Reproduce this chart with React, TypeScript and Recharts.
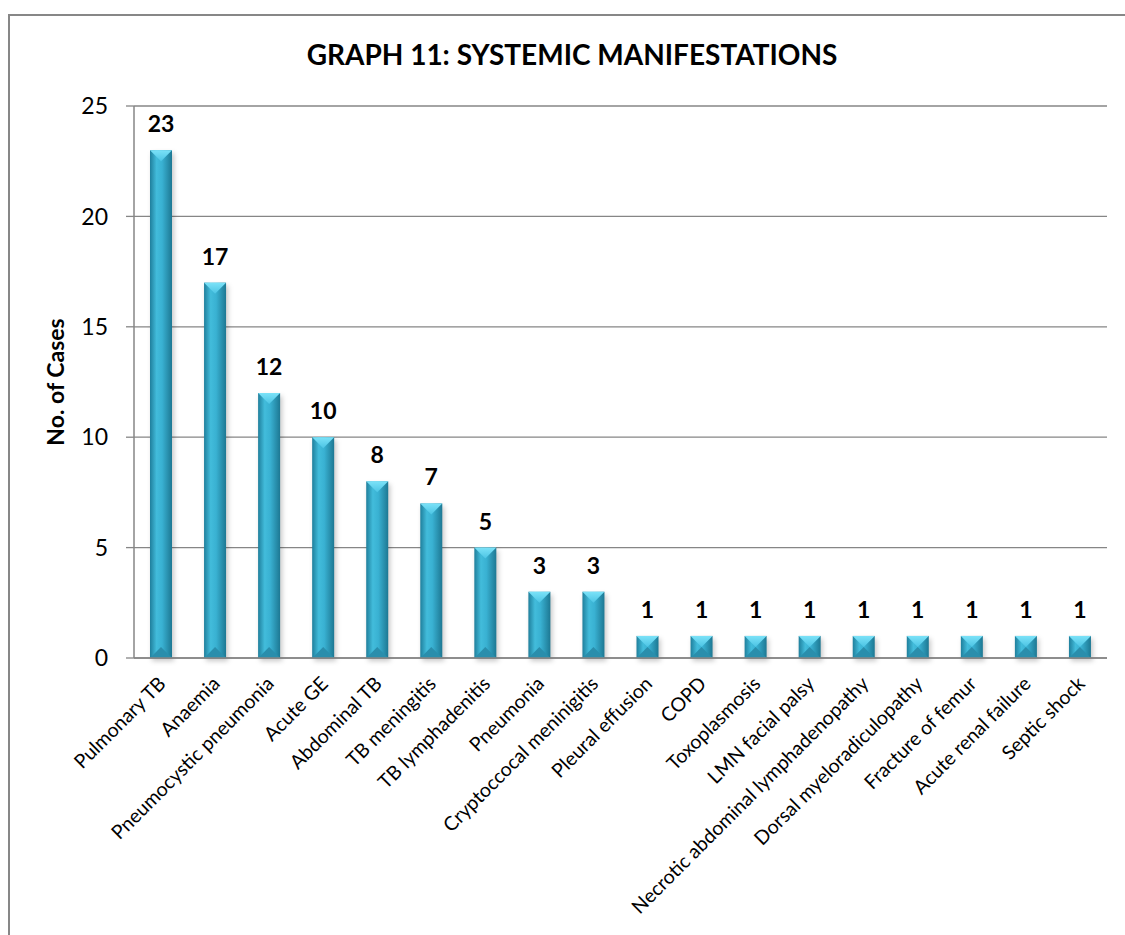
import { BarChart, Bar, XAxis, YAxis, CartesianGrid, LabelList } from "recharts";

const categories = [
  "Pulmonary TB",
  "Anaemia",
  "Pneumocystic pneumonia",
  "Acute GE",
  "Abdominal TB",
  "TB meningitis",
  "TB lymphadenitis",
  "Pneumonia",
  "Cryptoccocal meninigitis",
  "Pleural effusion",
  "COPD",
  "Toxoplasmosis",
  "LMN facial palsy",
  "Necrotic abdominal lymphadenopathy",
  "Dorsal myeloradiculopathy",
  "Fracture of femur",
  "Acute renal failure",
  "Septic shock",
];
const cases = [23, 17, 12, 10, 8, 7, 5, 3, 3, 1, 1, 1, 1, 1, 1, 1, 1, 1];
const yTicks = [0, 5, 10, 15, 20, 25];

const data = categories.map((name, i) => ({ name, value: cases[i] }));

const FONT = "Lato, 'Open Sans', sans-serif";
const GRID = "#868686";

const BevelBar = (props: any) => {
  const { x, y, width, height } = props;
  if (!height || height <= 0) return null;
  const b = Math.min(width / 2, height / 2);
  const cx = x + width / 2;
  return (
    <g>
      <rect x={x + 2} y={y + 3} width={width} height={height} fill="rgba(0,0,0,0.22)" filter="url(#barShadow)" />
      <rect x={x} y={y} width={width} height={height} fill="url(#barBody)" />
      <polygon points={`${x},${y} ${x + width},${y} ${cx},${y + b}`} fill="url(#barTop)" />
      <polygon points={`${x},${y + height} ${x + width},${y + height} ${cx},${y + height - b}`} fill="#2a8eac" />
    </g>
  );
};

const CategoryTick = (props: any) => {
  const { x, y, payload } = props;
  const ax = x + 6;
  const ay = y + 27;
  return (
    <text
      x={ax}
      y={ay}
      textAnchor="end"
      transform={`rotate(-45, ${ax}, ${ay})`}
      fontFamily={FONT}
      fontSize={19.5}
      fill="#000"
    >
      {payload.value}
    </text>
  );
};

const YTitle = () => (
  <text
    x={64}
    y={382}
    transform="rotate(-90, 64, 382)"
    textAnchor="middle"
    fontFamily={FONT}
    fontWeight="bold"
    fontSize={23}
    fill="#000"
  >
    No. of Cases
  </text>
);

export default function App() {
  return (
    <div
      style={{
        position: "fixed",
        left: 0,
        top: 0,
        width: 1125,
        height: 935,
        overflow: "hidden",
        background: "#fff",
      }}
    >
      <div
        style={{
          position: "absolute",
          left: 8,
          top: 14,
          width: 1300,
          height: 1100,
          border: "2px solid #878787",
        }}
      />
      <div
        style={{
          position: "absolute",
          left: 0,
          top: 37,
          width: 1144,
          textAlign: "center",
          fontFamily: FONT,
          fontWeight: "bold",
          fontSize: 28,
          lineHeight: "34px",
          color: "#000",
        }}
      >
        GRAPH 11: SYSTEMIC MANIFESTATIONS
      </div>
      <div style={{ position: "absolute", left: 0, top: 0 }}>
        <BarChart
          width={1125}
          height={935}
          data={data}
          margin={{ top: 106, right: 18, bottom: 0, left: 0 }}
        >
          <defs>
            <linearGradient id="barBody" x1="0" y1="0" x2="1" y2="0">
              <stop offset="0%" stopColor="#1f7f9c" />
              <stop offset="30%" stopColor="#42bcdb" />
              <stop offset="55%" stopColor="#39b1d2" />
              <stop offset="100%" stopColor="#1d7893" />
            </linearGradient>
            <linearGradient id="barTop" x1="0" y1="0" x2="0" y2="1">
              <stop offset="0%" stopColor="#7be2f8" />
              <stop offset="100%" stopColor="#4cc4e4" />
            </linearGradient>
            <filter id="barShadow" x="-50%" y="-50%" width="200%" height="200%">
              <feGaussianBlur stdDeviation="2.5" />
            </filter>
          </defs>
          <CartesianGrid horizontal vertical={false} stroke={GRID} strokeWidth={1.3} />
          <XAxis
            dataKey="name"
            height={277}
            interval={0}
            tickLine={false}
            axisLine={{ stroke: GRID, strokeWidth: 1.5 }}
            tickSize={0}
            tickMargin={0}
            tick={<CategoryTick />}
          />
          <YAxis
            width={134}
            domain={[0, 25]}
            ticks={yTicks}
            interval={0}
            tickSize={8}
            tickMargin={18}
            axisLine={{ stroke: GRID, strokeWidth: 1.5 }}
            tickLine={{ stroke: GRID, strokeWidth: 1.3 }}
            tick={{ fill: "#000", fontSize: 23, fontFamily: FONT }}
            label={<YTitle />}
          />
          <Bar dataKey="value" barSize={22} shape={<BevelBar />} isAnimationActive={false}>
            <LabelList
              dataKey="value"
              position="top"
              offset={18}
              fill="#000"
              fontSize={23}
              fontWeight="bold"
              fontFamily={FONT}
            />
          </Bar>
        </BarChart>
      </div>
    </div>
  );
}
